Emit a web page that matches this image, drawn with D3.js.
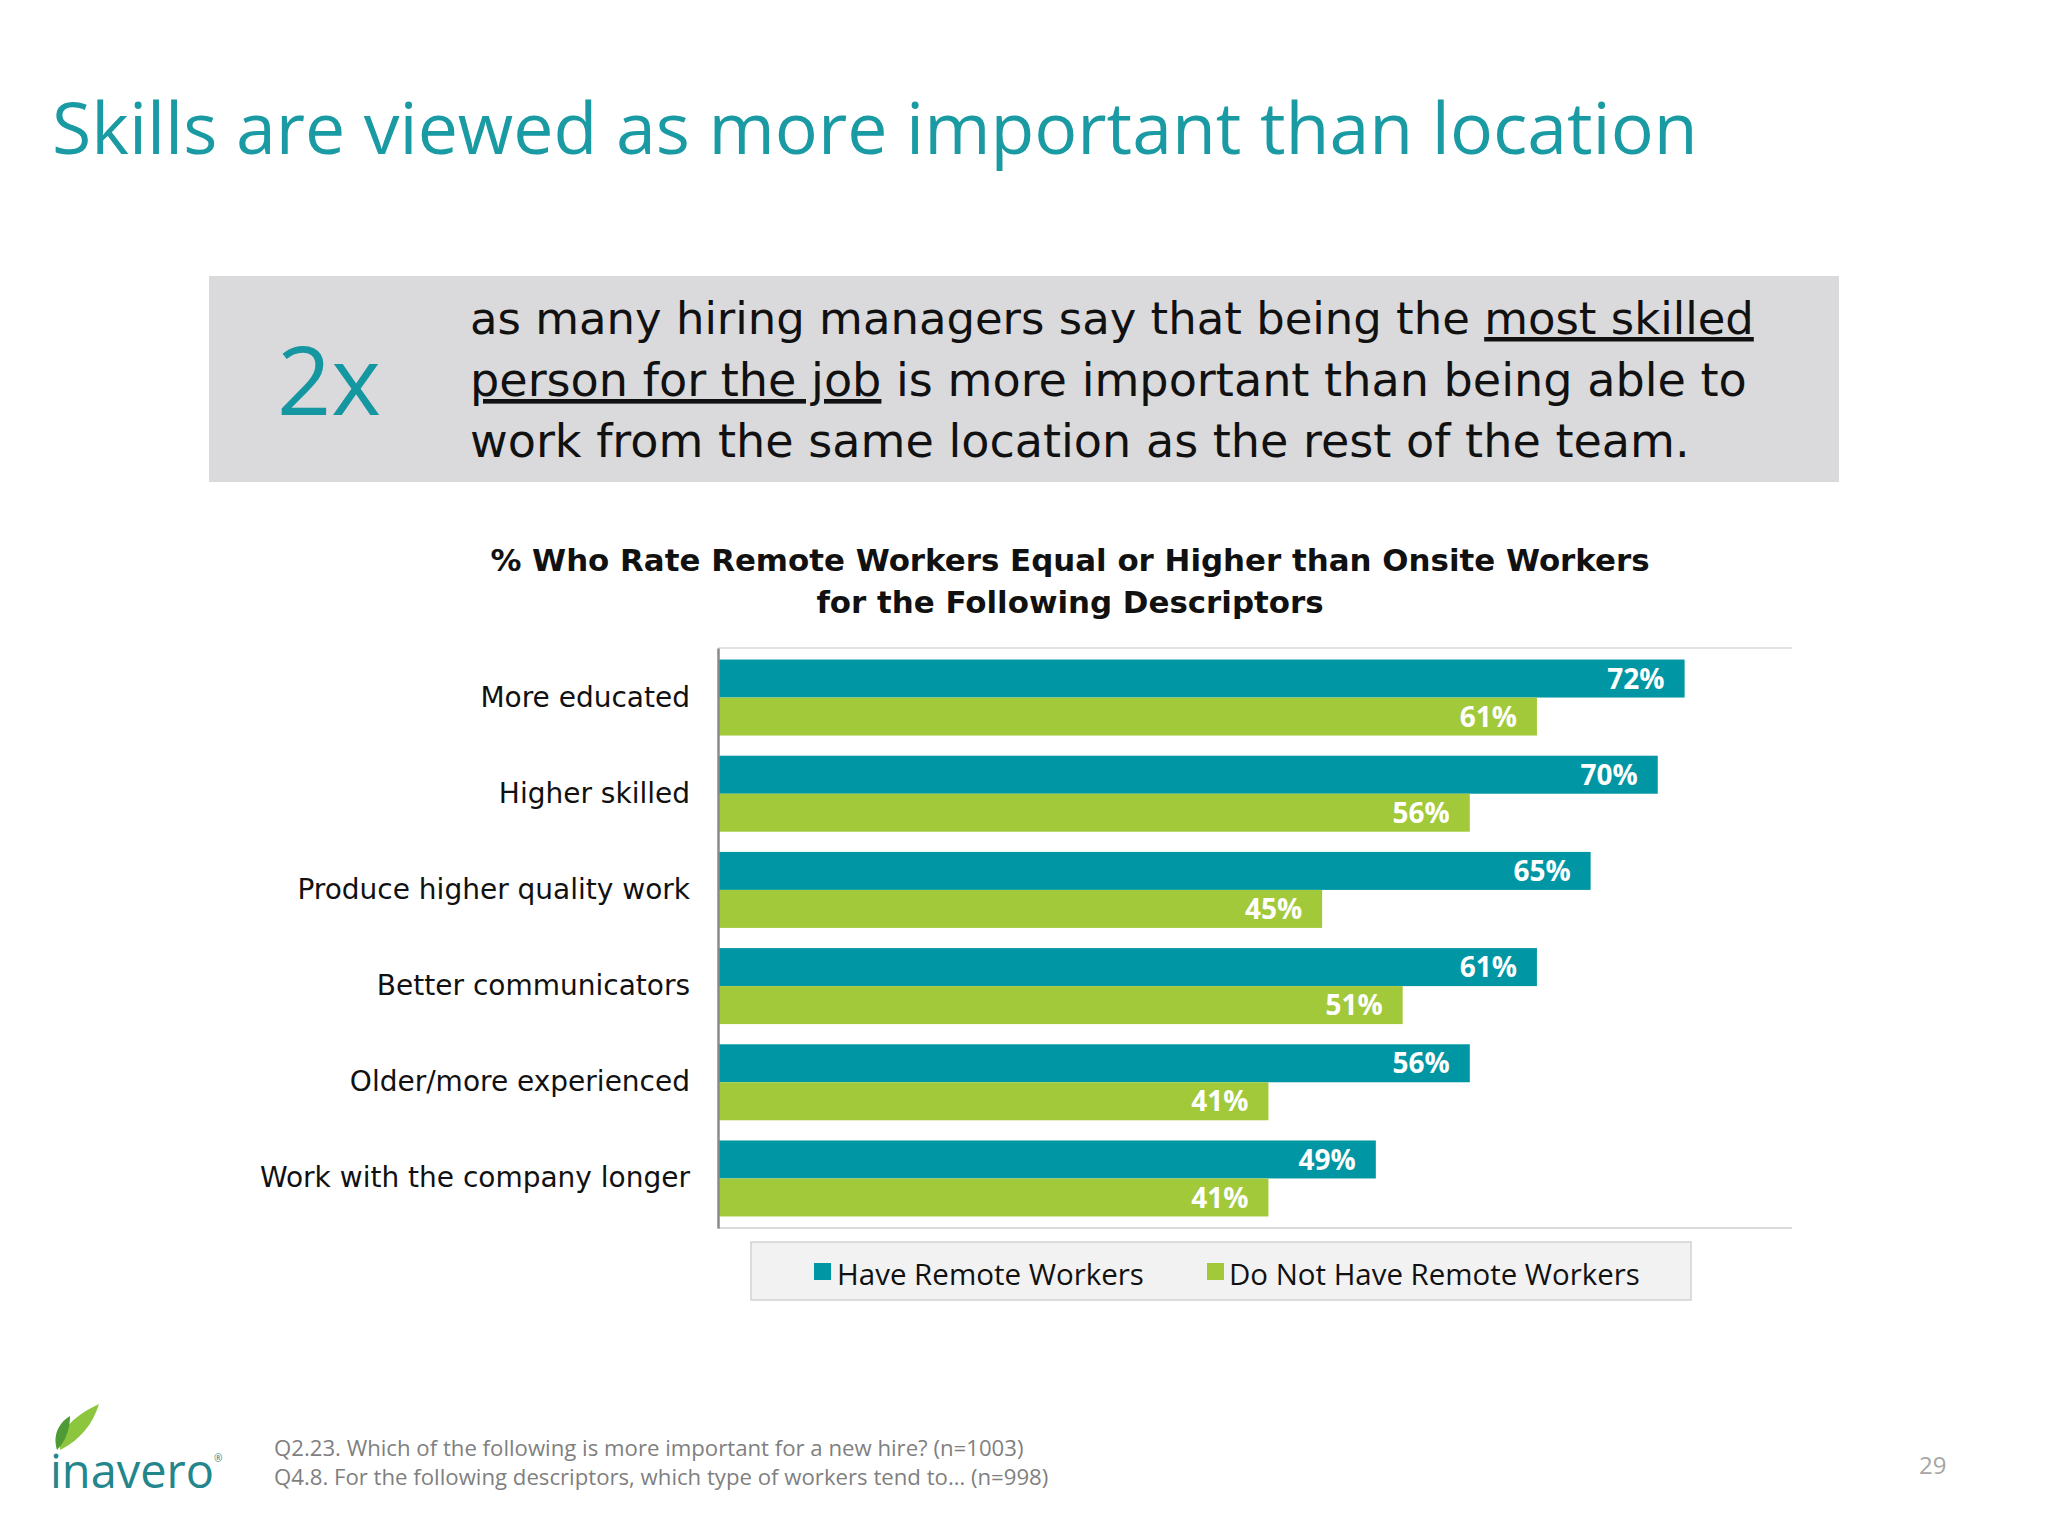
<!DOCTYPE html>
<html><head><meta charset="utf-8">
<script src="https://cdn.jsdelivr.net/npm/d3@7"></script>
<style>body{margin:0;background:#fff;} svg{display:block}</style>
</head><body><svg id="c" width="2048" height="1536"></svg>
<script>
const categories = ["More educated","Higher skilled","Produce higher quality work","Better communicators","Older/more experienced","Work with the company longer"];
const haveRemote = [72,70,65,61,56,49];
const noRemote = [61,56,45,51,41,41];
const seriesNames = ["Have Remote Workers","Do Not Have Remote Workers"];
const seriesColors = ["#0096a3","#a2c93a"];
const pageTitle = "Skills are viewed as more important than location";
const chartTitle = ["% Who Rate Remote Workers Equal or Higher than Onsite Workers","for the Following Descriptors"];
const calloutBig = "2x";
const calloutLines = [
  [{t:"as many hiring managers say that being the "},{t:"most skilled",u:true}],
  [{t:"person for the job",u:true},{t:" is more important than being able to"}],
  [{t:"work from the same location as the rest of the team."}]
];
const footnotes = ["Q2.23. Which of the following is more important for a new hire? (n=1003)","Q4.8. For the following descriptors, which type of workers tend to\u2026 (n=998)"];
const pageNumber = "29";
const logoText = "inavero";

const svg = d3.select("#c");
const teal = "#1a9aa2";

function fit(sel, w){
  const l = sel.node().getComputedTextLength();
  const fs = parseFloat(sel.attr("font-size"));
  const n = fs*w/l;
  sel.attr("font-size", n);
  return n;
}

// page title
const t = svg.append("text").attr("x",52).attr("y",154).attr("font-family","Open Sans")
  .attr("font-size",70).attr("fill",teal).text(pageTitle);
fit(t,1646);

// callout box
svg.append("rect").attr("x",209).attr("y",276).attr("width",1630).attr("height",206).attr("fill","#dad9db");
const big = svg.append("text").attr("x",277).attr("y",415).attr("font-family","Open Sans")
  .attr("font-size",108).attr("fill","#1597a1").text(calloutBig);
fit(big,104);
const lineY = [334,396,457];
const lineW = [1284,1277,1220];
calloutLines.forEach((ln,i)=>{
  const tx = svg.append("text").attr("x",470).attr("y",lineY[i]).attr("font-family","DejaVu Sans")
    .attr("font-size",40).attr("fill","#111");
  ln.forEach(p=>{
    const s = tx.append("tspan").text(p.t);
    if(p.u) s.attr("text-decoration","underline");
  });
  fit(tx,lineW[i]);
});

// chart title
const ct = svg.append("g").attr("font-family","DejaVu Sans").attr("font-weight","bold").attr("fill","#111").attr("text-anchor","middle");
const ct1 = ct.append("text").attr("x",1070).attr("y",571).attr("font-size",32).text(chartTitle[0]);
const cfs = fit(ct1,1160);
ct.append("text").attr("x",1070).attr("y",613).attr("font-size",cfs).text(chartTitle[1]);

// chart
const x0 = 718, x1 = 1792, yTop = 648, yBot = 1228;
const x = d3.scaleLinear().domain([0,80]).range([x0,x1]);
const y = d3.scaleBand().domain(categories).range([yTop,yBot]).paddingInner(0.21).paddingOuter(0.12);
const ySub = d3.scaleBand().domain([0,1]).range([0,y.bandwidth()]);

svg.append("line").attr("x1",x0).attr("x2",x1).attr("y1",yTop).attr("y2",yTop).attr("stroke","#e2e2e2").attr("stroke-width",2);
svg.append("line").attr("x1",x0).attr("x2",x1).attr("y1",yBot).attr("y2",yBot).attr("stroke","#dadada").attr("stroke-width",2);

const rows = categories.map((c,i)=>({c, v:[haveRemote[i], noRemote[i]]}));
const g = svg.append("g");
const row = g.selectAll("g.row").data(rows).join("g").attr("class","row")
  .attr("transform",d=>`translate(0,${y(d.c)})`);
row.selectAll("rect").data(d=>d.v.map((v,k)=>({v,k}))).join("rect")
  .attr("x",x(0)).attr("y",d=>ySub(d.k)).attr("width",d=>x(d.v)-x(0)).attr("height",ySub.bandwidth())
  .attr("fill",d=>seriesColors[d.k]);
row.selectAll("text.val").data(d=>d.v.map((v,k)=>({v,k}))).join("text").attr("class","val")
  .attr("x",d=>x(d.v)-20).attr("y",d=>ySub(d.k)+ySub.bandwidth()/2).attr("dy","0.36em")
  .attr("text-anchor","end").attr("font-family","Open Sans").attr("font-weight","bold")
  .attr("font-size",28).attr("fill","#fff").text(d=>d.v+"%");

// y axis
const yAxis = d3.axisLeft(y).tickSize(0).tickPadding(28);
const ya = svg.append("g").attr("transform",`translate(${x0},0)`).call(yAxis);
ya.select(".domain").attr("stroke","#8a8a8a").attr("stroke-width",2.5);
ya.selectAll("text").attr("font-family","DejaVu Sans").attr("font-size",28).attr("fill","#111");

// legend
svg.append("rect").attr("x",751).attr("y",1242).attr("width",940).attr("height",58).attr("fill","#f2f2f3").attr("stroke","#d2d2d4").attr("stroke-width",1.5);
const legX = [814,1207], legTX = [837,1229], legW=[307,411];
seriesNames.forEach((n,i)=>{
  svg.append("rect").attr("x",legX[i]).attr("y",1263).attr("width",17).attr("height",17).attr("fill",seriesColors[i]);
  const lt = svg.append("text").attr("x",legTX[i]).attr("y",1285).attr("font-family","Open Sans").attr("font-size",29).attr("fill","#111").text(n);
  fit(lt,legW[i]);
});

// footer
const f1 = svg.append("text").attr("x",274).attr("y",1456).attr("font-family","Open Sans").attr("font-size",20).attr("fill","#7f7f7f").text(footnotes[0]);
const ffs = fit(f1,750);
svg.append("text").attr("x",274).attr("y",1485).attr("font-family","Open Sans").attr("font-size",ffs).attr("fill","#7f7f7f").text(footnotes[1]);
svg.append("text").attr("x",1919).attr("y",1474).attr("font-family","Open Sans").attr("font-size",24).attr("fill","#a6a6a6").text(pageNumber);

// logo
const lg = svg.append("text").attr("x",50).attr("y",1488).attr("font-family","Open Sans").attr("font-size",56).attr("fill","#23868c").text(logoText);
fit(lg,164);
svg.append("text").attr("x",214).attr("y",1462).attr("font-family","Open Sans").attr("font-size",10).attr("fill","#23868c").text("\u00ae");
svg.append("path").attr("d","M60 1450 C58 1428 78 1414 99 1404 C93 1424 80 1440 60 1450 Z").attr("fill","#8cc63f");
svg.append("path").attr("d","M57 1450 C52 1434 60 1422 70 1416 C70 1430 65 1442 57 1450 Z").attr("fill","#4e9a35");
</script></body></html>
